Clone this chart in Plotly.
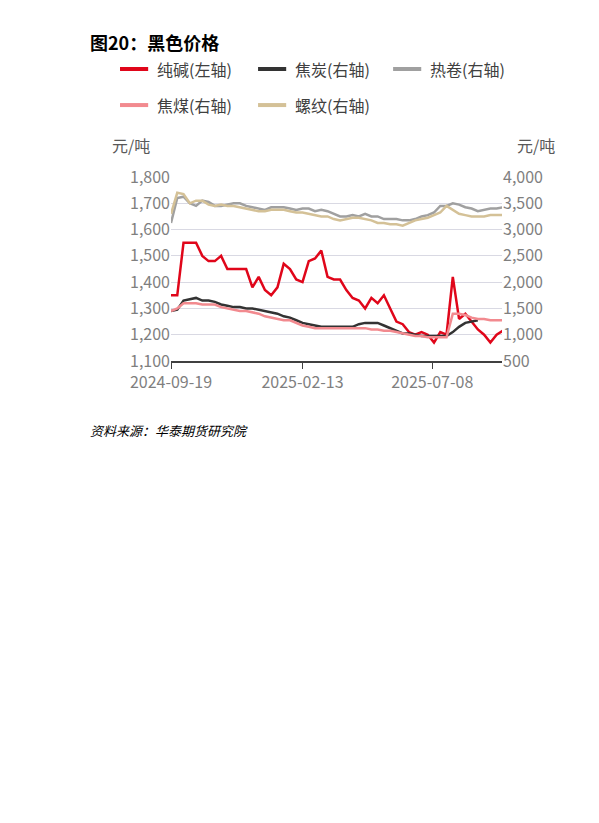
import pandas as pd
import plotly.graph_objects as go

# weekly observations starting 2024-09-19
dates = pd.date_range("2024-09-19", periods=54, freq="7D")

soda_ash = [1350, 1350, 1550, 1550, 1550, 1500, 1480, 1480, 1500, 1450,
            1450, 1450, 1450, 1380, 1420, 1370, 1350, 1380, 1470, 1450,
            1410, 1400, 1480, 1490, 1520, 1420, 1410, 1410, 1370, 1340,
            1330, 1300, 1340, 1320, 1350, 1300, 1250, 1240, 1210, 1200,
            1210, 1200, 1170, 1210, 1200, 1420, 1260, 1280, 1250, 1220,
            1200, 1170, 1200, 1215]
coke = [1450, 1475, 1650, 1675, 1700, 1650, 1650, 1625, 1575, 1550,
        1525, 1525, 1500, 1500, 1475, 1450, 1425, 1400, 1350, 1325,
        1275, 1225, 1200, 1175, 1150, 1150, 1150, 1150, 1150, 1150,
        1200, 1225, 1225, 1225, 1175, 1125, 1075, 1025, 1025, 1000,
        975, 975, 975, 975, 975, 1050, 1150, 1225, 1250, 1275,
        None, None, None, None]
hot_coil = [3125, 3600, 3625, 3500, 3450, 3550, 3525, 3450, 3450, 3475,
            3500, 3500, 3450, 3425, 3400, 3375, 3425, 3425, 3425, 3400,
            3375, 3400, 3400, 3350, 3375, 3350, 3300, 3250, 3250, 3275,
            3250, 3300, 3250, 3250, 3200, 3200, 3200, 3175, 3175, 3200,
            3250, 3275, 3325, 3450, 3450, 3500, 3475, 3425, 3400, 3350,
            3375, 3400, 3400, 3425]
coking_coal = [1450, 1500, 1600, 1600, 1600, 1575, 1575, 1575, 1525, 1500,
               1475, 1450, 1450, 1425, 1400, 1350, 1325, 1300, 1275, 1275,
               1225, 1175, 1150, 1125, 1125, 1125, 1125, 1125, 1125, 1125,
               1125, 1125, 1100, 1100, 1075, 1075, 1050, 1025, 1000, 975,
               975, 950, 950, 950, 950, 1400, 1400, 1375, 1325, 1300,
               1300, 1275, 1275, 1275]
rebar = [3300, 3700, 3675, 3500, 3550, 3550, 3475, 3450, 3475, 3450,
         3450, 3425, 3400, 3375, 3350, 3350, 3375, 3375, 3375, 3350,
         3325, 3325, 3300, 3275, 3250, 3250, 3200, 3175, 3200, 3225,
         3225, 3200, 3175, 3125, 3125, 3100, 3100, 3075, 3125, 3175,
         3200, 3225, 3275, 3325, 3450, 3375, 3300, 3275, 3250, 3250,
         3250, 3275, 3275, 3275]

tick_dates = ["2024-09-19", "2025-02-13", "2025-07-08"]

series = [
    ("纯碱(左轴)", soda_ash, "y", "#e0061a"),
    ("焦炭(右轴)", coke, "y2", "#333333"),
    ("热卷(右轴)", hot_coil, "y2", "#a0a0a0"),
    ("焦煤(右轴)", coking_coal, "y2", "#f28a8f"),
    ("螺纹(右轴)", rebar, "y2", "#d4c197"),
]
# legend slots (paper coords), drawn by hand to get the 3+2 layout
legend_pos = [(-0.154, 1.587), (0.263, 1.587), (0.671, 1.587), (-0.154, 1.391), (0.263, 1.391)]

fig = go.Figure()
shapes, annotations = [], []
for (name, vals, ax, color), (lx, ly) in zip(series, legend_pos):
    fig.add_trace(go.Scatter(x=dates, y=vals, name=name, yaxis=ax,
                             line=dict(color=color, width=2.5), showlegend=False))
    shapes.append(dict(type="line", xref="paper", yref="paper", x0=lx, x1=lx + 0.085,
                       y0=ly, y1=ly, line=dict(color=color, width=4)))
    annotations.append(dict(text=name, x=lx + 0.105, y=ly, xref="paper", yref="paper",
                            xanchor="left", yanchor="middle", showarrow=False,
                            font=dict(size=16, color="#404040")))

font = "Noto Sans CJK SC"
annotations += [
    dict(text="<b>图20：黑色价格</b>", x=-0.251, y=1.734, xref="paper", yref="paper",
         xanchor="left", yanchor="middle", showarrow=False, font=dict(size=18, color="#000000")),
    dict(text="元/吨", x=-0.184, y=1.174, xref="paper", yref="paper", xanchor="left",
         yanchor="middle", showarrow=False, font=dict(size=16, color="#595959")),
    dict(text="元/吨", x=1.039, y=1.174, xref="paper", yref="paper", xanchor="left",
         yanchor="middle", showarrow=False, font=dict(size=16, color="#595959")),
    dict(text="<i>资料来源：华泰期货研究院</i>", x=-0.251, y=-0.375, xref="paper", yref="paper",
         xanchor="left", yanchor="middle", showarrow=False, font=dict(size=13, color="#000000")),
]

fig.update_layout(
    width=599, height=823,
    margin=dict(l=163, r=105, t=169, b=470),
    plot_bgcolor="white", paper_bgcolor="white",
    font=dict(family=font, color="#7f7f7f", size=16),
    xaxis=dict(range=["2024-09-19", "2025-09-24"], tickvals=tick_dates, ticktext=tick_dates,
               showgrid=False, showline=True, linecolor="#404040", linewidth=1.5,
               ticks="outside", ticklen=6, tickcolor="#404040"),
    yaxis=dict(range=[1100, 1800], dtick=100, tickformat=",", gridcolor="#d9d9e3",
               zeroline=False, ticks=""),
    yaxis2=dict(range=[500, 4000], dtick=500, tickformat=",", overlaying="y", side="right",
                showgrid=False, zeroline=False),
    shapes=shapes,
    annotations=annotations,
)
fig.write_html("out.html")
